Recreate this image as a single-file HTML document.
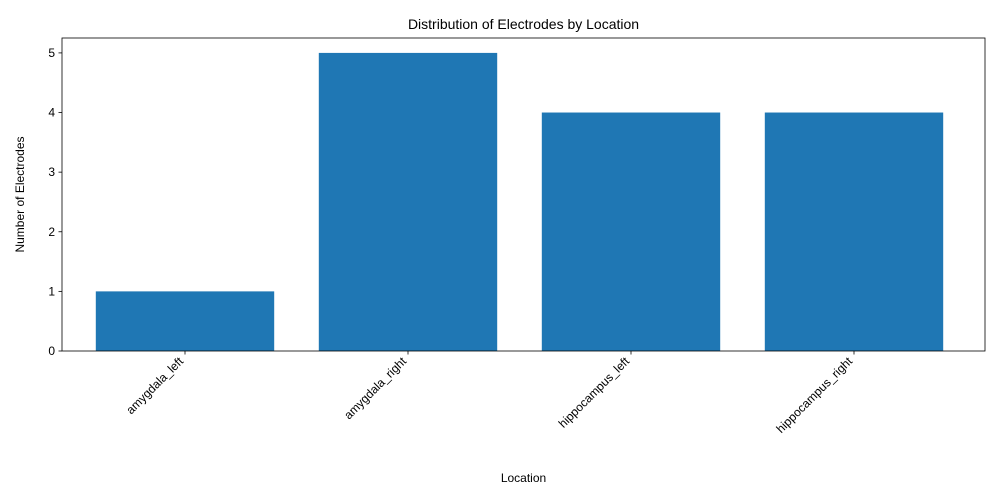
<!DOCTYPE html>
<html><head><meta charset="utf-8"><style>
html,body{margin:0;padding:0;background:#fff;}
svg{display:block;font-family:"Liberation Sans","DejaVu Sans",sans-serif;}
</style></head><body>
<svg id="chart" width="1000" height="500"></svg>
<script>
const categories = ["amygdala_left","amygdala_right","hippocampus_left","hippocampus_right"];
const counts = [1,5,4,4];
const yTicks = [0,1,2,3,4,5];

const svg = document.getElementById('chart');
const NS = 'http://www.w3.org/2000/svg';
const L = 62, R = 985, T = 38, B = 351;
const yMax = 5.25;
const step = 223, x0 = 185;
function xs(i){ return x0 + step*i; }
function ys(v){ return B - (v / yMax) * (B - T); }
function mk(tag, attrs, text){
  const e = document.createElementNS(NS, tag);
  for (const k in attrs) e.setAttribute(k, attrs[k]);
  if (text !== undefined) e.textContent = text;
  svg.appendChild(e);
  return e;
}
const title = mk('text',{x:(L+R)/2,y:29,'text-anchor':'middle','font-size':14,fill:'#000'},'Distribution of Electrodes by Location');



const bw = step*0.8;
counts.forEach((v,i)=>{
  const r = mk('rect',{x:xs(i)-bw/2,y:ys(v),width:bw,height:B-ys(v),fill:'#1f77b4'});
  
  
});

const frame = mk('rect',{x:L,y:T,width:R-L,height:B-T,fill:'none',stroke:'#000','stroke-width':0.8});



yTicks.forEach(t=>{
  const y = ys(t);
  const tk = mk('line',{x1:L-3.5,x2:L,y1:y,y2:y,stroke:'#000','stroke-width':0.8});
  
  
  const lb = mk('text',{x:L-7,y:y+4,'text-anchor':'end','font-size':12,fill:'#000'},String(t));
  
  
});

categories.forEach((c,i)=>{
  const x = xs(i);
  const tk = mk('line',{x1:x,x2:x,y1:B,y2:B+3.5,stroke:'#000','stroke-width':0.8});
  
  
  const ax = x-1, ay = B+11;
  const lb = mk('text',{x:ax,y:ay,'text-anchor':'end','font-size':12,fill:'#000',transform:`rotate(-45 ${ax} ${ay})`},c);
  
  
});

const xt = mk('text',{x:(L+R)/2,y:482,'text-anchor':'middle','font-size':12,fill:'#000'},'Location');


const yt = mk('text',{x:24,y:(T+B)/2,'text-anchor':'middle','font-size':12,fill:'#000',transform:`rotate(-90 24 ${(T+B)/2})`},'Number of Electrodes');


</script>
</body></html>
